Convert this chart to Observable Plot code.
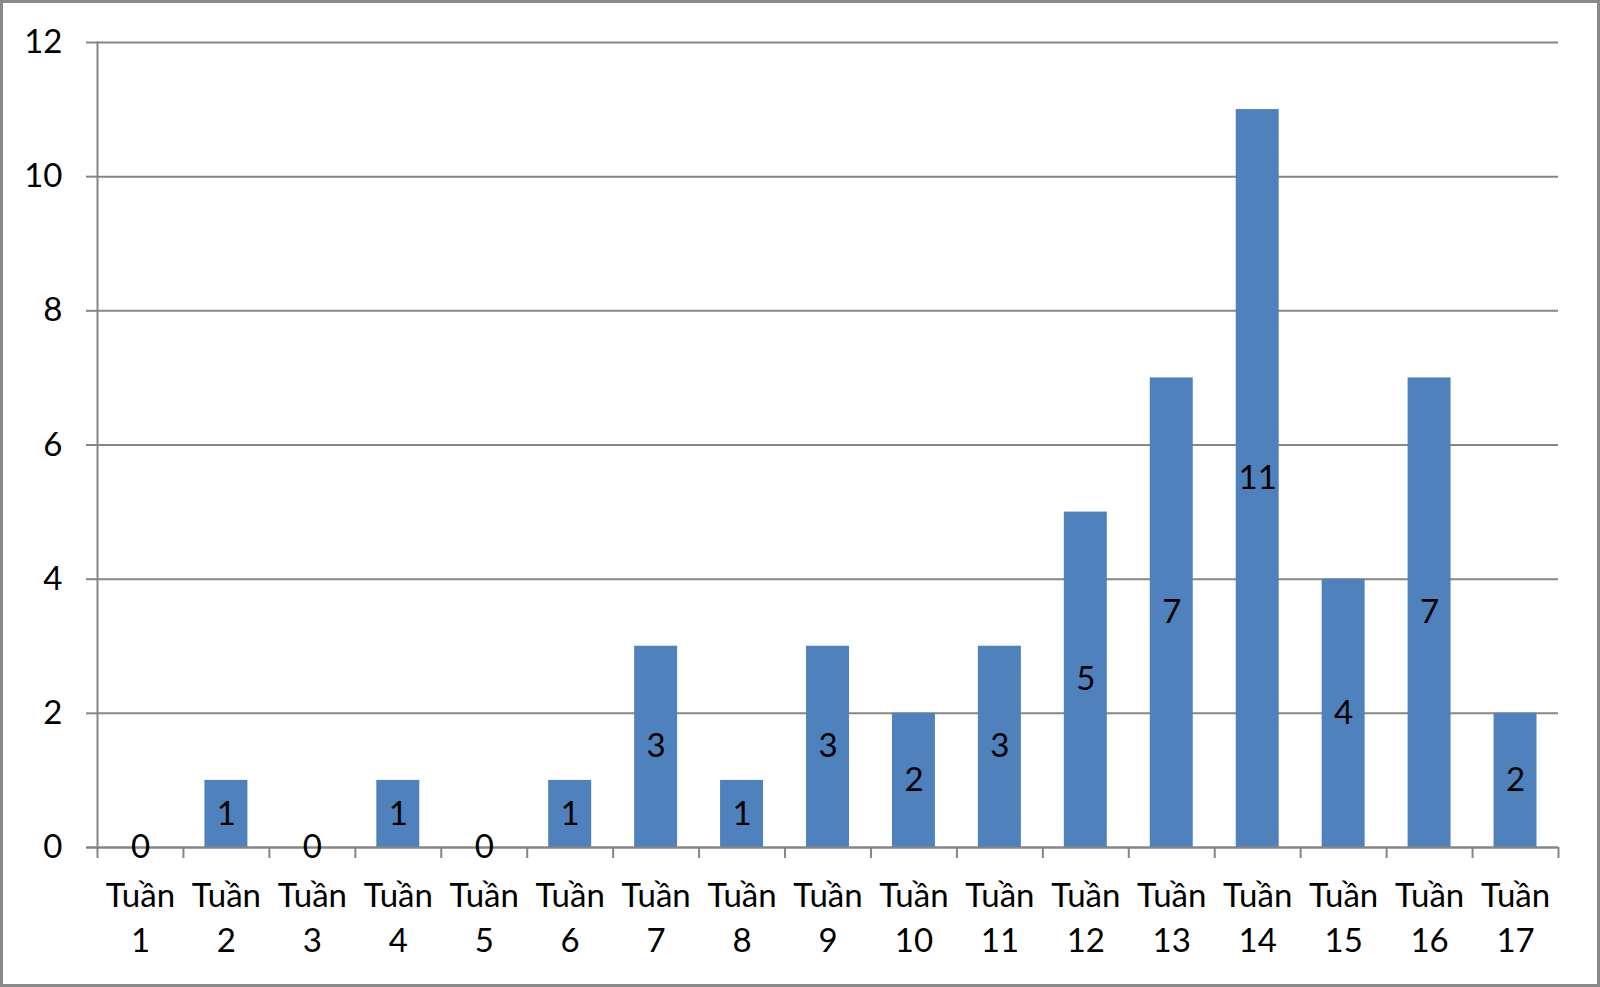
<!DOCTYPE html>
<html>
<head>
<meta charset="utf-8">
<script src="https://cdn.jsdelivr.net/npm/d3@7"></script>
<script src="https://cdn.jsdelivr.net/npm/@observablehq/plot@0.6"></script>
<style>
  html, body { margin: 0; padding: 0; background: #fff; }
  #chart svg { display: block; outline: 3px solid #8a8a8a; outline-offset: -3px; }
</style>
</head>
<body>
<div id="chart"></div>
<script>
const weeks = ["Tuần 1","Tuần 2","Tuần 3","Tuần 4","Tuần 5","Tuần 6","Tuần 7","Tuần 8","Tuần 9","Tuần 10","Tuần 11","Tuần 12","Tuần 13","Tuần 14","Tuần 15","Tuần 16","Tuần 17"];
const counts = [0,1,0,1,0,1,3,1,3,2,3,5,7,11,4,7,2];
const yTicks = [0,2,4,6,8,10,12];

const data = weeks.map((w, i) => ({week: w, value: counts[i]}));

const W = 1600, H = 987;
const mL = 97, mR = 42, mT = 42, mB = 140;
const step = (W - mL - mR) / weeks.length;
const gray = "#868686";
const font = "Lato, 'Open Sans', sans-serif";

const chart = Plot.plot({
  width: W,
  height: H,
  marginLeft: mL,
  marginRight: mR,
  marginTop: mT,
  marginBottom: mB,
  style: {fontFamily: font, fontSize: "33px", background: "#fff", color: "#000"},
  x: {type: "band", domain: weeks, paddingInner: 0.5, paddingOuter: 0.25, round: false, label: null},
  y: {domain: [0, 12], ticks: yTicks, label: null},
  marks: [
    Plot.gridY(yTicks, {stroke: gray, strokeOpacity: 1, strokeWidth: 2}),
    Plot.barY(data, {x: "week", y: "value", fill: "#4F81BD"}),
    Plot.frame({anchor: "left", stroke: gray, strokeWidth: 2}),
    Plot.ruleY([0], {stroke: gray, strokeWidth: 2, insetLeft: -11}),
    Plot.axisY(yTicks, {tickSize: 11, tickPadding: 24, stroke: gray, strokeWidth: 2, fontSize: 33, fill: "#000",
      tickFormat: d => String(d), label: null}),
    // category boundary ticks
    Plot.axisX(weeks, {text: null, tickSize: 11, dx: -step / 2, stroke: gray, strokeWidth: 2, label: null}),
    Plot.axisX(weeks.slice(-1), {text: null, tickSize: 11, dx: step / 2, stroke: gray, strokeWidth: 2, label: null}),
    Plot.axisX(weeks, {tickSize: 0, tickPadding: 28, fontSize: 33, lineHeight: 1.36, fill: "#000",
      tickFormat: d => d.replace(" ", "\n"), label: null}),
    Plot.text(data, {x: "week", y: d => d.value / 2, text: d => String(d.value), fontSize: 33, fill: "#000"})
  ]
});
document.getElementById("chart").appendChild(chart);
</script>
</body>
</html>
